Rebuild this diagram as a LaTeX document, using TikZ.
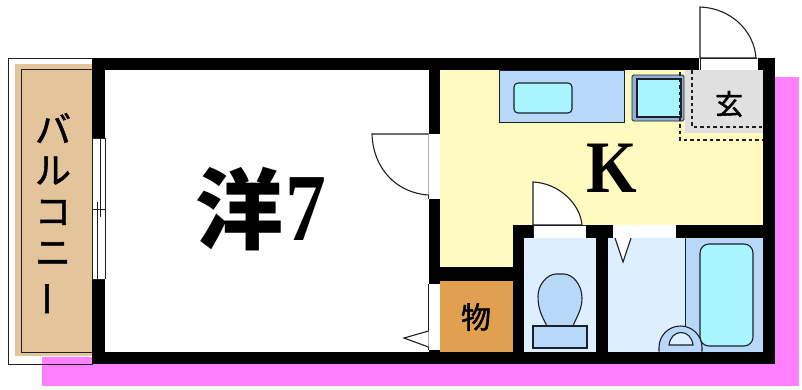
\documentclass[tikz,border=0pt]{standalone}
\usepackage{fontspec}
\usepackage{graphicx}
\newfontfamily\cjkfont{Noto Sans CJK JP}
\newfontfamily\cjkmed[FakeBold=1.5]{Noto Sans CJK JP}
\newfontfamily\latinfont{Liberation Serif}
\definecolor{magentabg}{HTML}{FF80FF}
\definecolor{tanfill}{HTML}{E3C49B}
\definecolor{yellowfill}{HTML}{FFFBC0}
\definecolor{bluefill}{HTML}{B8D8FA}
\definecolor{cyanfill}{HTML}{A8F4FF}
\definecolor{palefill}{HTML}{DCEEFF}
\definecolor{orangefill}{HTML}{E0A050}
\definecolor{greyfill}{HTML}{E0E0E0}
\definecolor{steelfill}{HTML}{90B0D8}
\definecolor{inkline}{HTML}{1C2026}
\tikzset{
  wall/.style={fill=black,draw=none},
  thin/.style={draw=inkline,line width=1.1pt},
  gap/.style={fill=white,draw=none},
  doorleaf/.style={draw=inkline,line width=1.1pt,fill=white},
  label/.style={inner sep=0pt,text=black}
}
\begin{document}
\begin{tikzpicture}[x=1pt,y=-1pt]
\useasboundingbox (0,0) rectangle (802,389);
\fill[white] (0,0) rectangle (802,389);
% magenta shadow
\fill[magentabg] (42,357) rectangle (100,386);
\fill[magentabg] (100,364) rectangle (799,386);
\fill[magentabg] (770,77) rectangle (799,386);
% balcony
\draw[draw=inkline,line width=0.9pt,fill=white] (8,58) rectangle (92,364);
\fill[magentabg] (42,357) rectangle (92,364);
\fill[tanfill] (15,63.5) rectangle (92,356);
\draw[draw=inkline,line width=1pt] (92,69) -- (21,69) -- (21,352) -- (92,352);
% rooms
\fill[yellowfill] (440,70) -- (763,70) -- (763,225) -- (513,225) -- (513,267) -- (440,267) -- cycle;
\fill[orangefill] (440,281) rectangle (513,352);
\fill[palefill] (524,238) rectangle (596,352);
\fill[palefill] (608,238) rectangle (685,352);
\fill[bluefill] (685,238) rectangle (763,352);
% counter
\draw[draw=inkline,line width=0.8pt,fill=bluefill] (499,70) rectangle (624,122);
\draw[thin,fill=cyanfill,rounded corners=4pt] (514,83) rectangle (572,113);
% fridge
\draw[draw=inkline,line width=0.9pt,fill=steelfill,rounded corners=1.5pt] (632,75) rectangle (684,121);
\draw[draw=inkline,line width=1.1pt,fill=cyanfill] (637,79) rectangle (681,117);
% entry
\fill[greyfill] (685,70) rectangle (763,133);
\draw[inkline,line width=1.1pt,dash pattern=on 3.5pt off 3pt] (692,70) -- (692,127) -- (763,127);
\draw[inkline,line width=1.1pt,dash pattern=on 3.5pt off 3pt] (680,72) -- (680,140) -- (763,140);
% walls
\fill[wall] (92,58) rectangle (775,70);
\fill[wall] (92,352) rectangle (775,364);
\fill[wall] (92,58) rectangle (105,364);
\fill[wall] (763,58) rectangle (775,364);
\fill[wall] (428.5,58) rectangle (440,352);
\fill[wall] (440,267) rectangle (524,281);
\fill[wall] (513,225) rectangle (524,352);
\fill[wall] (513,225) rectangle (763,238);
\fill[wall] (596,225) rectangle (608,352);
% window
\fill[gap] (92,138) rectangle (105,279);
\draw[thin,line width=0.9pt] (92,138) -- (105,138) (92,279) -- (105,279);
\draw[thin,line width=0.9pt] (92,138) -- (92,279) (105,138) -- (105,279);
\draw[thin,line width=0.9pt] (97,202) -- (97,279) (100.5,138) -- (100.5,217) (92,209) -- (105,209);
% door to kitchen
\fill[gap] (428.5,134) rectangle (440,199);
\draw[draw=inkline,line width=0.9pt] (428.5,134) -- (428.5,199);
\draw[doorleaf] (428.5,134) -- (372,134) .. controls (373,168) and (396,193) .. (428.5,195);
% door of storage
\fill[gap] (428.5,284) rectangle (440,350);
\draw[draw=inkline,line width=0.9pt] (428.5,284) -- (428.5,350);
\draw[doorleaf] (428.5,331) -- (404,338) -- (428.5,347);
% door of WC
\fill[gap] (533,225) rectangle (586,238);
\draw[doorleaf] (533,225) -- (533,182) .. controls (558,183) and (580,203) .. (582,225) -- cycle;
\draw[draw=inkline,line width=0.9pt] (533,225) -- (586,225) (533,225) -- (533,238);
% door of bath
\fill[gap] (613,225) rectangle (676,238);
\draw[doorleaf] (615,238) -- (623,262) -- (631,238);
% entrance door
\fill[gap] (699,58) rectangle (758,70);
\draw[doorleaf] (700,58) -- (700,7) .. controls (730,8) and (754,30) .. (756,58) -- cycle;
\draw[draw=inkline,line width=0.9pt] (700,58) -- (757,58) (700,58) -- (700,70);
% toilet
\draw[thin,fill=bluefill] (547,326) .. controls (542,316) and (538,310) .. (538,296) .. controls (538,284) and (548,274) .. (556,274) -- (564,274) .. controls (572,274) and (582,284) .. (582,298) .. controls (582,310) and (576,318) .. (573,326) -- cycle;
\draw[thin,fill=bluefill] (533,326) rectangle (587,348);
% bath
\draw[draw=inkline,line width=1pt] (685,238) -- (685,330);
\draw[thin,fill=cyanfill,rounded corners=9pt] (700,244) rectangle (753,346);
\draw[thin,fill=bluefill] (659,351.5) -- (659,347.5) arc[start angle=180,end angle=360,radius=21.5] -- (702,351.5);
\draw[thin,fill=palefill] (669,345) .. controls (670,337) and (675,332.5) .. (681,332.5) .. controls (687,332.5) and (692,337) .. (693,345) -- cycle;
% labels
\node[label] (balcony) at (53,216) {\cjkmed\fontsize{36}{41}\selectfont\begin{tabular}{@{}c@{}}バ\\ル\\コ\\ニ\\\rotatebox[origin=c]{90}{ー}\end{tabular}};
\node[label] (western) at (239,209) {\cjkfont\bfseries\fontsize{88}{88}\selectfont 洋};
\node[label,xscale=0.85] (seven) at (305.5,209.5) {\latinfont\bfseries\fontsize{96}{96}\selectfont 7};
\node[label,xscale=0.88] (kitchen) at (612,168.5) {\latinfont\bfseries\fontsize{74}{74}\selectfont K};
\node[label] (entry) at (729,104) {\cjkmed\fontsize{28}{28}\selectfont 玄};
\node[label] (storage) at (476,317) {\cjkmed\fontsize{30}{30}\selectfont 物};
\end{tikzpicture}
\end{document}
